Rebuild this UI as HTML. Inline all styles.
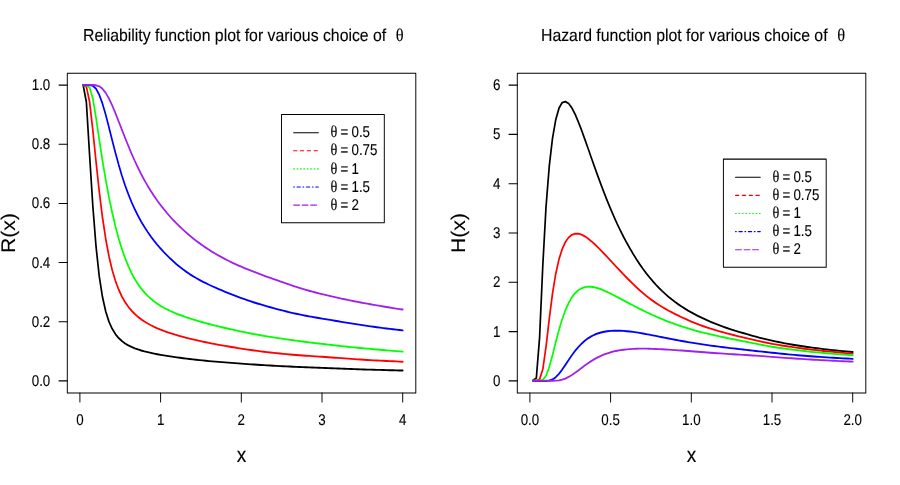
<!DOCTYPE html>
<html><head><meta charset="utf-8"><title>Reliability and Hazard function plots</title>
<style>html,body{margin:0;padding:0;background:#fff;overflow:hidden}svg{display:block;will-change:transform}text{fill:#000;stroke:#000;stroke-width:0.12px;text-rendering:geometricPrecision}</style></head>
<body>
<svg width="900" height="485" viewBox="0 0 900 485">
<rect width="900" height="485" fill="#fff"/>
<g transform="scale(1.135,1.243)" fill="none" stroke-width="1.5" stroke-linecap="round" stroke-linejoin="round">
<path d="M73.24,68.38 L76.08,82.06 L78.93,124.68 L81.77,165.51 L84.62,198.48 L87.46,222.35 L90.30,239.01 L93.15,250.59 L95.99,258.72 L98.84,264.54 L101.68,268.78 L104.53,271.96 L107.37,274.40 L110.21,276.32 L113.06,277.86 L115.90,279.14 L118.75,280.22 L121.59,281.15 L124.43,281.97 L127.28,282.70 L130.12,283.35 L132.97,283.95 L135.81,284.51 L138.65,285.02 L141.50,285.49 L144.34,285.94 L147.19,286.36 L150.03,286.76 L152.87,287.14 L155.72,287.50 L158.56,287.85 L161.41,288.19 L164.25,288.51 L167.09,288.82 L169.94,289.12 L172.78,289.41 L175.63,289.69 L178.47,289.96 L181.31,290.22 L184.16,290.47 L187.00,290.70 L189.85,290.93 L192.69,291.15 L195.53,291.36 L198.38,291.57 L201.22,291.76 L204.07,291.96 L206.91,292.15 L209.76,292.35 L212.60,292.54 L215.44,292.73 L218.29,292.92 L221.13,293.10 L223.98,293.28 L226.82,293.45 L229.66,293.62 L232.51,293.78 L235.35,293.93 L238.20,294.08 L241.04,294.22 L243.88,294.36 L246.73,294.50 L249.57,294.63 L252.42,294.77 L255.26,294.89 L258.10,295.02 L260.95,295.14 L263.79,295.26 L266.64,295.37 L269.48,295.48 L272.32,295.59 L275.17,295.70 L278.01,295.80 L280.86,295.90 L283.70,296.00 L286.54,296.10 L289.39,296.20 L292.23,296.30 L295.08,296.40 L297.92,296.50 L300.76,296.59 L303.61,296.69 L306.45,296.79 L309.30,296.88 L312.14,296.97 L314.99,297.07 L317.83,297.15 L320.67,297.24 L323.52,297.32 L326.36,297.40 L329.21,297.48 L332.05,297.55 L334.89,297.62 L337.74,297.69 L340.58,297.76 L343.43,297.83 L346.27,297.89 L349.11,297.96 L351.96,298.03 L354.80,298.09" stroke="#000000"/>
<path d="M73.24,68.42 L76.08,69.69 L78.93,81.89 L81.77,104.65 L84.62,130.14 L87.46,154.15 L90.30,174.99 L93.15,192.23 L95.99,206.11 L98.84,217.16 L101.68,225.92 L104.53,232.90 L107.37,238.51 L110.21,243.07 L113.06,246.82 L115.90,249.96 L118.75,252.63 L121.59,254.92 L124.43,256.92 L127.28,258.68 L130.12,260.26 L132.97,261.68 L135.81,262.96 L138.65,264.14 L141.50,265.22 L144.34,266.22 L147.19,267.15 L150.03,268.02 L152.87,268.84 L155.72,269.62 L158.56,270.36 L161.41,271.07 L164.25,271.75 L167.09,272.41 L169.94,273.05 L172.78,273.66 L175.63,274.25 L178.47,274.82 L181.31,275.37 L184.16,275.90 L187.00,276.41 L189.85,276.91 L192.69,277.39 L195.53,277.85 L198.38,278.30 L201.22,278.75 L204.07,279.18 L206.91,279.60 L209.76,280.02 L212.60,280.43 L215.44,280.83 L218.29,281.23 L221.13,281.61 L223.98,281.97 L226.82,282.33 L229.66,282.66 L232.51,282.98 L235.35,283.29 L238.20,283.58 L241.04,283.87 L243.88,284.14 L246.73,284.41 L249.57,284.67 L252.42,284.92 L255.26,285.16 L258.10,285.38 L260.95,285.60 L263.79,285.80 L266.64,285.99 L269.48,286.17 L272.32,286.34 L275.17,286.52 L278.01,286.69 L280.86,286.87 L283.70,287.05 L286.54,287.23 L289.39,287.41 L292.23,287.60 L295.08,287.78 L297.92,287.96 L300.76,288.15 L303.61,288.34 L306.45,288.53 L309.30,288.72 L312.14,288.90 L314.99,289.09 L317.83,289.26 L320.67,289.43 L323.52,289.59 L326.36,289.73 L329.21,289.88 L332.05,290.01 L334.89,290.15 L337.74,290.27 L340.58,290.40 L343.43,290.52 L346.27,290.64 L349.11,290.76 L351.96,290.88 L354.80,291.00" stroke="#ff0000"/>
<path d="M73.24,68.72 L76.08,68.75 L78.93,70.37 L81.77,79.17 L84.62,94.84 L87.46,112.48 L90.30,129.34 L93.15,144.71 L95.99,158.57 L98.84,170.99 L101.68,182.03 L104.53,191.75 L107.37,200.27 L110.21,207.67 L113.06,214.10 L115.90,219.65 L118.75,224.46 L121.59,228.61 L124.43,232.20 L127.28,235.32 L130.12,238.05 L132.97,240.44 L135.81,242.55 L138.65,244.42 L141.50,246.09 L144.34,247.59 L147.19,248.95 L150.03,250.20 L152.87,251.35 L155.72,252.42 L158.56,253.42 L161.41,254.37 L164.25,255.27 L167.09,256.12 L169.94,256.94 L172.78,257.73 L175.63,258.50 L178.47,259.24 L181.31,259.95 L184.16,260.65 L187.00,261.33 L189.85,261.99 L192.69,262.63 L195.53,263.26 L198.38,263.87 L201.22,264.47 L204.07,265.05 L206.91,265.63 L209.76,266.18 L212.60,266.73 L215.44,267.26 L218.29,267.78 L221.13,268.28 L223.98,268.77 L226.82,269.25 L229.66,269.71 L232.51,270.16 L235.35,270.59 L238.20,271.02 L241.04,271.44 L243.88,271.84 L246.73,272.24 L249.57,272.63 L252.42,273.01 L255.26,273.38 L258.10,273.74 L260.95,274.09 L263.79,274.44 L266.64,274.77 L269.48,275.10 L272.32,275.43 L275.17,275.75 L278.01,276.06 L280.86,276.37 L283.70,276.68 L286.54,276.98 L289.39,277.28 L292.23,277.57 L295.08,277.86 L297.92,278.15 L300.76,278.43 L303.61,278.70 L306.45,278.97 L309.30,279.24 L312.14,279.50 L314.99,279.75 L317.83,280.00 L320.67,280.24 L323.52,280.48 L326.36,280.71 L329.21,280.94 L332.05,281.17 L334.89,281.39 L337.74,281.61 L340.58,281.83 L343.43,282.04 L346.27,282.25 L349.11,282.46 L351.96,282.67 L354.80,282.87" stroke="#00ff00"/>
<path d="M73.24,68.48 L76.08,68.47 L78.93,68.49 L81.77,68.98 L84.62,71.37 L87.46,76.28 L90.30,83.44 L93.15,92.36 L95.99,102.37 L98.84,112.74 L101.68,122.88 L104.53,132.42 L107.37,141.17 L110.21,149.10 L113.06,156.23 L115.90,162.64 L118.75,168.40 L121.59,173.60 L124.43,178.33 L127.28,182.66 L130.12,186.63 L132.97,190.31 L135.81,193.73 L138.65,196.93 L141.50,199.94 L144.34,202.78 L147.19,205.47 L150.03,208.03 L152.87,210.44 L155.72,212.72 L158.56,214.86 L161.41,216.86 L164.25,218.74 L167.09,220.49 L169.94,222.13 L172.78,223.68 L175.63,225.14 L178.47,226.52 L181.31,227.83 L184.16,229.09 L187.00,230.30 L189.85,231.46 L192.69,232.59 L195.53,233.69 L198.38,234.75 L201.22,235.80 L204.07,236.83 L206.91,237.83 L209.76,238.82 L212.60,239.79 L215.44,240.73 L218.29,241.63 L221.13,242.51 L223.98,243.35 L226.82,244.16 L229.66,244.94 L232.51,245.71 L235.35,246.46 L238.20,247.19 L241.04,247.91 L243.88,248.62 L246.73,249.31 L249.57,249.97 L252.42,250.62 L255.26,251.24 L258.10,251.84 L260.95,252.42 L263.79,252.97 L266.64,253.51 L269.48,254.01 L272.32,254.50 L275.17,254.97 L278.01,255.42 L280.86,255.85 L283.70,256.29 L286.54,256.72 L289.39,257.15 L292.23,257.59 L295.08,258.02 L297.92,258.46 L300.76,258.90 L303.61,259.33 L306.45,259.76 L309.30,260.19 L312.14,260.61 L314.99,261.02 L317.83,261.42 L320.67,261.81 L323.52,262.19 L326.36,262.55 L329.21,262.91 L332.05,263.26 L334.89,263.60 L337.74,263.93 L340.58,264.26 L343.43,264.58 L346.27,264.90 L349.11,265.21 L351.96,265.52 L354.80,265.83" stroke="#0000ff"/>
<path d="M73.24,68.33 L76.08,68.33 L78.93,68.33 L81.77,68.36 L84.62,68.60 L87.46,69.47 L90.30,71.44 L93.15,74.72 L95.99,79.27 L98.84,84.82 L101.68,91.05 L104.53,97.65 L107.37,104.36 L110.21,111.00 L113.06,117.45 L115.90,123.62 L118.75,129.47 L121.59,134.98 L124.43,140.16 L127.28,145.00 L130.12,149.54 L132.97,153.79 L135.81,157.76 L138.65,161.49 L141.50,165.00 L144.34,168.31 L147.19,171.44 L150.03,174.41 L152.87,177.23 L155.72,179.91 L158.56,182.47 L161.41,184.91 L164.25,187.24 L167.09,189.47 L169.94,191.60 L172.78,193.64 L175.63,195.59 L178.47,197.46 L181.31,199.24 L184.16,200.96 L187.00,202.60 L189.85,204.16 L192.69,205.67 L195.53,207.10 L198.38,208.48 L201.22,209.79 L204.07,211.06 L206.91,212.27 L209.76,213.45 L212.60,214.58 L215.44,215.68 L218.29,216.74 L221.13,217.78 L223.98,218.80 L226.82,219.79 L229.66,220.77 L232.51,221.73 L235.35,222.68 L238.20,223.61 L241.04,224.53 L243.88,225.45 L246.73,226.35 L249.57,227.25 L252.42,228.15 L255.26,229.04 L258.10,229.92 L260.95,230.78 L263.79,231.61 L266.64,232.42 L269.48,233.19 L272.32,233.92 L275.17,234.63 L278.01,235.32 L280.86,235.98 L283.70,236.63 L286.54,237.26 L289.39,237.88 L292.23,238.48 L295.08,239.07 L297.92,239.65 L300.76,240.21 L303.61,240.76 L306.45,241.30 L309.30,241.83 L312.14,242.35 L314.99,242.85 L317.83,243.35 L320.67,243.83 L323.52,244.31 L326.36,244.78 L329.21,245.24 L332.05,245.69 L334.89,246.13 L337.74,246.57 L340.58,247.00 L343.43,247.42 L346.27,247.83 L349.11,248.24 L351.96,248.64 L354.80,249.03" stroke="#a020f0"/>
<path d="M469.72,305.88 L472.56,304.05 L475.40,271.62 L478.25,213.36 L481.09,166.11 L483.94,133.66 L486.78,111.38 L489.62,96.40 L492.47,87.17 L495.31,82.54 L498.16,81.74 L501.00,83.27 L503.84,86.76 L506.69,91.87 L509.53,97.97 L512.38,104.73 L515.22,111.90 L518.07,119.26 L520.91,126.68 L523.75,134.05 L526.60,141.30 L529.44,148.37 L532.29,155.21 L535.13,161.79 L537.97,168.10 L540.82,174.12 L543.66,179.86 L546.51,185.31 L549.35,190.47 L552.19,195.37 L555.04,200.01 L557.88,204.41 L560.73,208.57 L563.57,212.50 L566.41,216.21 L569.26,219.69 L572.10,222.97 L574.95,226.05 L577.79,228.94 L580.63,231.66 L583.48,234.22 L586.32,236.62 L589.17,238.87 L592.01,240.99 L594.85,242.98 L597.70,244.85 L600.54,246.62 L603.39,248.28 L606.23,249.86 L609.07,251.35 L611.92,252.77 L614.76,254.11 L617.61,255.40 L620.45,256.62 L623.30,257.80 L626.14,258.93 L628.98,260.01 L631.83,261.05 L634.67,262.04 L637.52,262.98 L640.36,263.88 L643.20,264.74 L646.05,265.57 L648.89,266.36 L651.74,267.14 L654.58,267.91 L657.42,268.67 L660.27,269.43 L663.11,270.17 L665.96,270.89 L668.80,271.57 L671.64,272.23 L674.49,272.85 L677.33,273.46 L680.18,274.05 L683.02,274.62 L685.86,275.17 L688.71,275.70 L691.55,276.20 L694.40,276.68 L697.24,277.13 L700.08,277.56 L702.93,277.98 L705.77,278.38 L708.62,278.77 L711.46,279.15 L714.30,279.51 L717.15,279.86 L719.99,280.20 L722.84,280.53 L725.68,280.84 L728.53,281.15 L731.37,281.45 L734.21,281.73 L737.06,282.00 L739.90,282.24 L742.75,282.48 L745.59,282.72 L748.43,282.96 L751.28,283.21" stroke="#000000"/>
<path d="M469.72,306.15 L472.56,306.13 L475.40,305.17 L478.25,297.11 L481.09,278.79 L483.94,256.45 L486.78,236.24 L489.62,220.36 L492.47,208.68 L495.31,200.39 L498.16,194.72 L501.00,191.04 L503.84,188.91 L506.69,187.99 L509.53,188.01 L512.38,188.78 L515.22,190.12 L518.07,191.89 L520.91,193.99 L523.75,196.33 L526.60,198.83 L529.44,201.45 L532.29,204.16 L535.13,206.91 L537.97,209.69 L540.82,212.48 L543.66,215.27 L546.51,218.03 L549.35,220.76 L552.19,223.44 L555.04,226.06 L557.88,228.62 L560.73,231.10 L563.57,233.48 L566.41,235.76 L569.26,237.91 L572.10,239.94 L574.95,241.86 L577.79,243.67 L580.63,245.37 L583.48,246.99 L586.32,248.52 L589.17,249.98 L592.01,251.37 L594.85,252.71 L597.70,253.99 L600.54,255.22 L603.39,256.41 L606.23,257.55 L609.07,258.66 L611.92,259.72 L614.76,260.75 L617.61,261.73 L620.45,262.67 L623.30,263.56 L626.14,264.42 L628.98,265.23 L631.83,266.01 L634.67,266.75 L637.52,267.47 L640.36,268.17 L643.20,268.84 L646.05,269.50 L648.89,270.15 L651.74,270.79 L654.58,271.42 L657.42,272.04 L660.27,272.66 L663.11,273.26 L665.96,273.86 L668.80,274.45 L671.64,275.02 L674.49,275.57 L677.33,276.09 L680.18,276.59 L683.02,277.06 L685.86,277.51 L688.71,277.94 L691.55,278.35 L694.40,278.74 L697.24,279.12 L700.08,279.49 L702.93,279.85 L705.77,280.20 L708.62,280.54 L711.46,280.87 L714.30,281.19 L717.15,281.50 L719.99,281.79 L722.84,282.07 L725.68,282.35 L728.53,282.62 L731.37,282.88 L734.21,283.14 L737.06,283.39 L739.90,283.62 L742.75,283.85 L745.59,284.07 L748.43,284.30 L751.28,284.53" stroke="#ff0000"/>
<path d="M469.72,306.31 L472.56,306.29 L475.40,306.26 L478.25,305.58 L481.09,302.29 L483.94,295.34 L486.78,285.79 L489.62,275.42 L492.47,265.54 L495.31,256.84 L498.16,249.57 L501.00,243.74 L503.84,239.23 L506.69,235.86 L509.53,233.48 L512.38,231.91 L515.22,231.00 L518.07,230.63 L520.91,230.70 L523.75,231.12 L526.60,231.80 L529.44,232.70 L532.29,233.76 L535.13,234.93 L537.97,236.20 L540.82,237.53 L543.66,238.89 L546.51,240.28 L549.35,241.67 L552.19,243.06 L555.04,244.44 L557.88,245.80 L560.73,247.14 L563.57,248.46 L566.41,249.75 L569.26,251.00 L572.10,252.23 L574.95,253.42 L577.79,254.58 L580.63,255.70 L583.48,256.79 L586.32,257.85 L589.17,258.87 L592.01,259.85 L594.85,260.80 L597.70,261.72 L600.54,262.60 L603.39,263.44 L606.23,264.25 L609.07,265.02 L611.92,265.76 L614.76,266.47 L617.61,267.15 L620.45,267.80 L623.30,268.44 L626.14,269.05 L628.98,269.65 L631.83,270.23 L634.67,270.80 L637.52,271.35 L640.36,271.89 L643.20,272.42 L646.05,272.93 L648.89,273.44 L651.74,273.94 L654.58,274.44 L657.42,274.94 L660.27,275.46 L663.11,275.98 L665.96,276.51 L668.80,277.03 L671.64,277.54 L674.49,278.02 L677.33,278.49 L680.18,278.93 L683.02,279.35 L685.86,279.75 L688.71,280.13 L691.55,280.48 L694.40,280.83 L697.24,281.16 L700.08,281.49 L702.93,281.81 L705.77,282.12 L708.62,282.42 L711.46,282.71 L714.30,282.99 L717.15,283.25 L719.99,283.50 L722.84,283.74 L725.68,283.97 L728.53,284.20 L731.37,284.42 L734.21,284.65 L737.06,284.86 L739.90,285.06 L742.75,285.25 L745.59,285.45 L748.43,285.64 L751.28,285.85" stroke="#00ff00"/>
<path d="M469.72,306.47 L472.56,306.49 L475.40,306.50 L478.25,306.52 L481.09,306.48 L483.94,306.19 L486.78,305.27 L489.62,303.45 L492.47,300.73 L495.31,297.31 L498.16,293.51 L501.00,289.60 L503.84,285.82 L506.69,282.33 L509.53,279.21 L512.38,276.48 L515.22,274.15 L518.07,272.20 L520.91,270.60 L523.75,269.31 L526.60,268.29 L529.44,267.50 L532.29,266.91 L535.13,266.50 L537.97,266.23 L540.82,266.09 L543.66,266.05 L546.51,266.10 L549.35,266.24 L552.19,266.45 L555.04,266.71 L557.88,267.04 L560.73,267.41 L563.57,267.82 L566.41,268.27 L569.26,268.75 L572.10,269.24 L574.95,269.76 L577.79,270.27 L580.63,270.79 L583.48,271.31 L586.32,271.83 L589.17,272.35 L592.01,272.86 L594.85,273.36 L597.70,273.84 L600.54,274.31 L603.39,274.77 L606.23,275.21 L609.07,275.64 L611.92,276.06 L614.76,276.47 L617.61,276.88 L620.45,277.26 L623.30,277.64 L626.14,278.00 L628.98,278.35 L631.83,278.70 L634.67,279.04 L637.52,279.37 L640.36,279.69 L643.20,280.01 L646.05,280.31 L648.89,280.61 L651.74,280.91 L654.58,281.21 L657.42,281.50 L660.27,281.79 L663.11,282.08 L665.96,282.36 L668.80,282.64 L671.64,282.92 L674.49,283.20 L677.33,283.48 L680.18,283.75 L683.02,284.03 L685.86,284.30 L688.71,284.57 L691.55,284.83 L694.40,285.08 L697.24,285.32 L700.08,285.55 L702.93,285.78 L705.77,286.00 L708.62,286.21 L711.46,286.42 L714.30,286.62 L717.15,286.81 L719.99,286.99 L722.84,287.16 L725.68,287.33 L728.53,287.50 L731.37,287.67 L734.21,287.83 L737.06,287.99 L739.90,288.14 L742.75,288.28 L745.59,288.42 L748.43,288.57 L751.28,288.72" stroke="#0000ff"/>
<path d="M469.72,306.42 L472.56,306.41 L475.40,306.39 L478.25,306.37 L481.09,306.36 L483.94,306.34 L486.78,306.32 L489.62,306.23 L492.47,305.96 L495.31,305.42 L498.16,304.53 L501.00,303.28 L503.84,301.73 L506.69,299.94 L509.53,298.02 L512.38,296.04 L515.22,294.10 L518.07,292.23 L520.91,290.50 L523.75,288.92 L526.60,287.50 L529.44,286.25 L532.29,285.16 L535.13,284.21 L537.97,283.41 L540.82,282.74 L543.66,282.18 L546.51,281.72 L549.35,281.35 L552.19,281.06 L555.04,280.84 L557.88,280.68 L560.73,280.57 L563.57,280.51 L566.41,280.49 L569.26,280.51 L572.10,280.56 L574.95,280.64 L577.79,280.74 L580.63,280.86 L583.48,281.00 L586.32,281.14 L589.17,281.30 L592.01,281.47 L594.85,281.65 L597.70,281.83 L600.54,282.02 L603.39,282.21 L606.23,282.41 L609.07,282.61 L611.92,282.81 L614.76,283.02 L617.61,283.22 L620.45,283.42 L623.30,283.62 L626.14,283.81 L628.98,283.99 L631.83,284.17 L634.67,284.34 L637.52,284.52 L640.36,284.69 L643.20,284.86 L646.05,285.02 L648.89,285.18 L651.74,285.33 L654.58,285.48 L657.42,285.64 L660.27,285.80 L663.11,285.97 L665.96,286.15 L668.80,286.33 L671.64,286.52 L674.49,286.71 L677.33,286.90 L680.18,287.10 L683.02,287.29 L685.86,287.49 L688.71,287.69 L691.55,287.88 L694.40,288.06 L697.24,288.24 L700.08,288.41 L702.93,288.59 L705.77,288.76 L708.62,288.93 L711.46,289.09 L714.30,289.25 L717.15,289.40 L719.99,289.54 L722.84,289.69 L725.68,289.83 L728.53,289.96 L731.37,290.10 L734.21,290.23 L737.06,290.36 L739.90,290.48 L742.75,290.61 L745.59,290.73 L748.43,290.86 L751.28,290.98" stroke="#a020f0"/>
</g>
<g transform="scale(1.135,1.243)" stroke-width="0.85" stroke-linecap="round" stroke-linejoin="round" fill="none">
<rect x="59.295" y="58.970" width="307.048" height="257.200" fill="none" stroke="#000"/>
<line x1="70.396" y1="316.171" x2="70.396" y2="323.331" stroke="#000"/>
<line x1="141.498" y1="316.171" x2="141.498" y2="323.331" stroke="#000"/>
<line x1="212.599" y1="316.171" x2="212.599" y2="323.331" stroke="#000"/>
<line x1="283.700" y1="316.171" x2="283.700" y2="323.331" stroke="#000"/>
<line x1="354.802" y1="316.171" x2="354.802" y2="323.331" stroke="#000"/>
<line x1="59.295" y1="306.436" x2="51.982" y2="306.436" stroke="#000"/>
<line x1="59.295" y1="258.842" x2="51.982" y2="258.842" stroke="#000"/>
<line x1="59.295" y1="211.247" x2="51.982" y2="211.247" stroke="#000"/>
<line x1="59.295" y1="163.652" x2="51.982" y2="163.652" stroke="#000"/>
<line x1="59.295" y1="116.058" x2="51.982" y2="116.058" stroke="#000"/>
<line x1="59.295" y1="68.463" x2="51.982" y2="68.463" stroke="#000"/>
</g>
<text transform="translate(79.90,425.10) scale(0.86,1)" font-family="'Liberation Sans', sans-serif" font-size="15.5" text-anchor="middle" >0</text>
<text transform="translate(160.60,425.10) scale(0.86,1)" font-family="'Liberation Sans', sans-serif" font-size="15.5" text-anchor="middle" >1</text>
<text transform="translate(241.30,425.10) scale(0.86,1)" font-family="'Liberation Sans', sans-serif" font-size="15.5" text-anchor="middle" >2</text>
<text transform="translate(322.00,425.10) scale(0.86,1)" font-family="'Liberation Sans', sans-serif" font-size="15.5" text-anchor="middle" >3</text>
<text transform="translate(402.70,425.10) scale(0.86,1)" font-family="'Liberation Sans', sans-serif" font-size="15.5" text-anchor="middle" >4</text>
<text transform="translate(50.30,385.95) scale(0.86,1)" font-family="'Liberation Sans', sans-serif" font-size="15.5" text-anchor="end" >0.0</text>
<text transform="translate(50.30,326.79) scale(0.86,1)" font-family="'Liberation Sans', sans-serif" font-size="15.5" text-anchor="end" >0.2</text>
<text transform="translate(50.30,267.63) scale(0.86,1)" font-family="'Liberation Sans', sans-serif" font-size="15.5" text-anchor="end" >0.4</text>
<text transform="translate(50.30,208.47) scale(0.86,1)" font-family="'Liberation Sans', sans-serif" font-size="15.5" text-anchor="end" >0.6</text>
<text transform="translate(50.30,149.31) scale(0.86,1)" font-family="'Liberation Sans', sans-serif" font-size="15.5" text-anchor="end" >0.8</text>
<text transform="translate(50.30,90.15) scale(0.86,1)" font-family="'Liberation Sans', sans-serif" font-size="15.5" text-anchor="end" >1.0</text>
<text transform="translate(241.60,461.60) scale(0.9,1)" font-family="'Liberation Sans', sans-serif" font-size="21.2" text-anchor="middle" >x</text>
<text transform="translate(14.80,233.00) rotate(-90) scale(1.0,0.93)" font-family="'Liberation Sans', sans-serif" font-size="21.2" text-anchor="middle" >R(x)</text>
<text transform="translate(83.0,40.8) scale(0.915,1)" font-size="17.3" font-family="'Liberation Sans', sans-serif" xml:space="preserve">Reliability function plot for various choice of<tspan dx="10.5" font-family="'Liberation Serif', serif" font-size="18">θ</tspan></text>
<g transform="scale(1.135,1.243)" stroke-width="0.85" stroke-linecap="round" stroke-linejoin="round" fill="none">
<rect x="248.018" y="92.116" width="90.573" height="87.047" fill="#fff" stroke="#000"/>
<line x1="258.678" y1="106.758" x2="280.529" y2="106.758" stroke="#000000"/>
<line x1="258.678" y1="121.319" x2="280.529" y2="121.319" stroke="#ff0000" stroke-dasharray="3 3"/>
<line x1="258.678" y1="135.881" x2="280.529" y2="135.881" stroke="#00ff00" stroke-dasharray="0.75 2.25"/>
<line x1="258.678" y1="150.442" x2="280.529" y2="150.442" stroke="#0000ff" stroke-dasharray="0.75 2.25 3 2.25"/>
<line x1="258.678" y1="165.004" x2="280.529" y2="165.004" stroke="#a020f0" stroke-dasharray="5.25 2.25"/>
</g>
<text transform="translate(330.50,137.30) scale(0.86,1)" font-size="15.5" font-family="'Liberation Sans', sans-serif"><tspan font-family="'Liberation Serif', serif" font-size="16.6">θ</tspan><tspan dx="3.8">=</tspan><tspan dx="3.6">0.5</tspan></text>
<text transform="translate(330.50,155.40) scale(0.86,1)" font-size="15.5" font-family="'Liberation Sans', sans-serif"><tspan font-family="'Liberation Serif', serif" font-size="16.6">θ</tspan><tspan dx="3.8">=</tspan><tspan dx="3.6">0.75</tspan></text>
<text transform="translate(330.50,173.50) scale(0.86,1)" font-size="15.5" font-family="'Liberation Sans', sans-serif"><tspan font-family="'Liberation Serif', serif" font-size="16.6">θ</tspan><tspan dx="3.8">=</tspan><tspan dx="3.6">1</tspan></text>
<text transform="translate(330.50,191.60) scale(0.86,1)" font-size="15.5" font-family="'Liberation Sans', sans-serif"><tspan font-family="'Liberation Serif', serif" font-size="16.6">θ</tspan><tspan dx="3.8">=</tspan><tspan dx="3.6">1.5</tspan></text>
<text transform="translate(330.50,209.70) scale(0.86,1)" font-size="15.5" font-family="'Liberation Sans', sans-serif"><tspan font-family="'Liberation Serif', serif" font-size="16.6">θ</tspan><tspan dx="3.8">=</tspan><tspan dx="3.6">2</tspan></text>
<g transform="scale(1.135,1.243)" stroke-width="0.85" stroke-linecap="round" stroke-linejoin="round" fill="none">
<rect x="455.771" y="58.970" width="307.048" height="257.200" fill="none" stroke="#000"/>
<line x1="466.872" y1="316.171" x2="466.872" y2="323.331" stroke="#000"/>
<line x1="537.974" y1="316.171" x2="537.974" y2="323.331" stroke="#000"/>
<line x1="609.075" y1="316.171" x2="609.075" y2="323.331" stroke="#000"/>
<line x1="680.176" y1="316.171" x2="680.176" y2="323.331" stroke="#000"/>
<line x1="751.278" y1="316.171" x2="751.278" y2="323.331" stroke="#000"/>
<line x1="455.771" y1="306.436" x2="448.458" y2="306.436" stroke="#000"/>
<line x1="455.771" y1="266.774" x2="448.458" y2="266.774" stroke="#000"/>
<line x1="455.771" y1="227.112" x2="448.458" y2="227.112" stroke="#000"/>
<line x1="455.771" y1="187.450" x2="448.458" y2="187.450" stroke="#000"/>
<line x1="455.771" y1="147.788" x2="448.458" y2="147.788" stroke="#000"/>
<line x1="455.771" y1="108.126" x2="448.458" y2="108.126" stroke="#000"/>
<line x1="455.771" y1="68.463" x2="448.458" y2="68.463" stroke="#000"/>
</g>
<text transform="translate(529.90,425.10) scale(0.86,1)" font-family="'Liberation Sans', sans-serif" font-size="15.5" text-anchor="middle" >0.0</text>
<text transform="translate(610.60,425.10) scale(0.86,1)" font-family="'Liberation Sans', sans-serif" font-size="15.5" text-anchor="middle" >0.5</text>
<text transform="translate(691.30,425.10) scale(0.86,1)" font-family="'Liberation Sans', sans-serif" font-size="15.5" text-anchor="middle" >1.0</text>
<text transform="translate(772.00,425.10) scale(0.86,1)" font-family="'Liberation Sans', sans-serif" font-size="15.5" text-anchor="middle" >1.5</text>
<text transform="translate(852.70,425.10) scale(0.86,1)" font-family="'Liberation Sans', sans-serif" font-size="15.5" text-anchor="middle" >2.0</text>
<text transform="translate(500.30,385.95) scale(0.86,1)" font-family="'Liberation Sans', sans-serif" font-size="15.5" text-anchor="end" >0</text>
<text transform="translate(500.30,336.65) scale(0.86,1)" font-family="'Liberation Sans', sans-serif" font-size="15.5" text-anchor="end" >1</text>
<text transform="translate(500.30,287.35) scale(0.86,1)" font-family="'Liberation Sans', sans-serif" font-size="15.5" text-anchor="end" >2</text>
<text transform="translate(500.30,238.05) scale(0.86,1)" font-family="'Liberation Sans', sans-serif" font-size="15.5" text-anchor="end" >3</text>
<text transform="translate(500.30,188.75) scale(0.86,1)" font-family="'Liberation Sans', sans-serif" font-size="15.5" text-anchor="end" >4</text>
<text transform="translate(500.30,139.45) scale(0.86,1)" font-family="'Liberation Sans', sans-serif" font-size="15.5" text-anchor="end" >5</text>
<text transform="translate(500.30,90.15) scale(0.86,1)" font-family="'Liberation Sans', sans-serif" font-size="15.5" text-anchor="end" >6</text>
<text transform="translate(691.60,461.60) scale(0.9,1)" font-family="'Liberation Sans', sans-serif" font-size="21.2" text-anchor="middle" >x</text>
<text transform="translate(464.80,233.00) rotate(-90) scale(1.0,0.93)" font-family="'Liberation Sans', sans-serif" font-size="21.2" text-anchor="middle" >H(x)</text>
<text transform="translate(541.0,40.8) scale(0.915,1)" font-size="17.3" font-family="'Liberation Sans', sans-serif" xml:space="preserve">Hazard function plot for various choice of<tspan dx="10.5" font-family="'Liberation Serif', serif" font-size="18">θ</tspan></text>
<g transform="scale(1.135,1.243)" stroke-width="0.85" stroke-linecap="round" stroke-linejoin="round" fill="none">
<rect x="637.357" y="127.997" width="90.573" height="87.047" fill="#fff" stroke="#000"/>
<line x1="648.018" y1="142.639" x2="669.868" y2="142.639" stroke="#000000"/>
<line x1="648.018" y1="157.200" x2="669.868" y2="157.200" stroke="#ff0000" stroke-dasharray="3 3"/>
<line x1="648.018" y1="171.762" x2="669.868" y2="171.762" stroke="#00ff00" stroke-dasharray="0.75 2.25"/>
<line x1="648.018" y1="186.323" x2="669.868" y2="186.323" stroke="#0000ff" stroke-dasharray="0.75 2.25 3 2.25"/>
<line x1="648.018" y1="200.885" x2="669.868" y2="200.885" stroke="#a020f0" stroke-dasharray="5.25 2.25"/>
</g>
<text transform="translate(772.40,181.90) scale(0.86,1)" font-size="15.5" font-family="'Liberation Sans', sans-serif"><tspan font-family="'Liberation Serif', serif" font-size="16.6">θ</tspan><tspan dx="3.8">=</tspan><tspan dx="3.6">0.5</tspan></text>
<text transform="translate(772.40,200.00) scale(0.86,1)" font-size="15.5" font-family="'Liberation Sans', sans-serif"><tspan font-family="'Liberation Serif', serif" font-size="16.6">θ</tspan><tspan dx="3.8">=</tspan><tspan dx="3.6">0.75</tspan></text>
<text transform="translate(772.40,218.10) scale(0.86,1)" font-size="15.5" font-family="'Liberation Sans', sans-serif"><tspan font-family="'Liberation Serif', serif" font-size="16.6">θ</tspan><tspan dx="3.8">=</tspan><tspan dx="3.6">1</tspan></text>
<text transform="translate(772.40,236.20) scale(0.86,1)" font-size="15.5" font-family="'Liberation Sans', sans-serif"><tspan font-family="'Liberation Serif', serif" font-size="16.6">θ</tspan><tspan dx="3.8">=</tspan><tspan dx="3.6">1.5</tspan></text>
<text transform="translate(772.40,254.30) scale(0.86,1)" font-size="15.5" font-family="'Liberation Sans', sans-serif"><tspan font-family="'Liberation Serif', serif" font-size="16.6">θ</tspan><tspan dx="3.8">=</tspan><tspan dx="3.6">2</tspan></text>
</svg>
</body></html>
